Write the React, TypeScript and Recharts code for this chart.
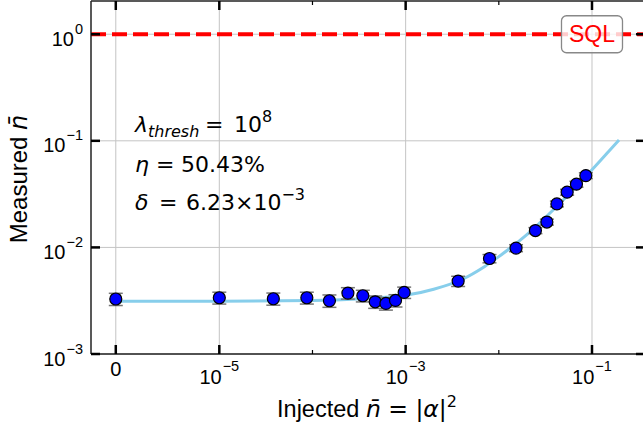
import React from 'react';
import { ComposedChart, XAxis, YAxis, Line, Scatter, ErrorBar, ReferenceLine, ReferenceDot } from 'recharts';

// measured points
const injected = [0, 1e-5, 3.8e-5, 8.7e-5, 1.52e-4, 2.4e-4, 3.47e-4, 4.71e-4, 6.14e-4, 7.78e-4, 9.64e-4, 3.66e-3, 7.94e-3, 1.53e-2, 2.47e-2, 3.28e-2, 4.2e-2, 5.41e-2, 6.81e-2, 8.59e-2];
const measured = [3.28e-3, 3.37e-3, 3.3e-3, 3.37e-3, 3.16e-3, 3.73e-3, 3.52e-3, 3.09e-3, 2.98e-3, 3.18e-3, 3.78e-3, 4.83e-3, 7.87e-3, 9.86e-3, 1.44e-2, 1.73e-2, 2.56e-2, 3.3e-2, 3.92e-2, 4.72e-2];
const errors = [4.3e-4, 4.3e-4, 4.3e-4, 4.3e-4, 4.2e-4, 4.6e-4, 4.4e-4, 4.1e-4, 4.0e-4, 4.2e-4, 4.6e-4, 5.3e-4, 7.0e-4, 7.4e-4, 9.4e-4, 1.1e-3, 1.6e-3, 2.1e-3, 2.5e-3, 3.0e-3];

// fitted curve
const fitX = [0, 1e-5, 1e-4, 3e-4, 1e-3, 2e-3, 4e-3, 7e-3, 1e-2, 2e-2, 4e-2, 7e-2, 1e-1, 1.5e-1, 1.95e-1];
const fitY = [3.12e-3, 3.13e-3, 3.18e-3, 3.28e-3, 3.55e-3, 4.05e-3, 5.0e-3, 6.6e-3, 8.2e-3, 1.32e-2, 2.33e-2, 3.85e-2, 5.35e-2, 7.9e-2, 1.02e-1];

const sqlLevel = 1;
const sqlLabel = 'SQL';

const xMajor = [0, 1e-5, 1e-3, 1e-1];
const xMinor = [1e-4, 1e-2];
const xTickLabels = ['0', '10^−5', '10^−3', '10^−1'];
const yTicks = [1e-3, 1e-2, 1e-1, 1];
const yTickLabels = ['10^−3', '10^−2', '10^−1', '10^0'];

// symlog like matplotlib (linthresh 1e-5, linscale 1)
const LINTHRESH = 1e-5;
const LINSCALE = 1 / (1 - 1 / 10);
const symlog = (v: number) =>
  v <= LINTHRESH ? (v / LINTHRESH) * LINSCALE : LINSCALE + Math.log10(v / LINTHRESH);

const X_DOMAIN = [-0.266, 5.68];
const Y_DOMAIN = [1e-3, 2.05];

const points = injected.map((v, i) => ({ tx: symlog(v), y: measured[i], err: errors[i] }));
const fit = fitX.map((v, i) => ({ tx: symlog(v), y: fitY[i] }));
const xTickPos = [...xMajor, ...xMinor].map(symlog);

const TICK_FONT = '"Liberation Sans", Arial, sans-serif';
const MATH_FONT = '"DejaVu Sans", sans-serif';

const PowLabel = ({ x, y, label, anchor, supDy }: any) => {
  const [base, exp] = label.split('^');
  return (
    <text x={x} y={y} textAnchor={anchor} fontFamily={TICK_FONT} fontSize={20} fill="#000">
      {base}
      {exp !== undefined && (
        <tspan dy={supDy} dx={1} fontSize={14.5}>
          {exp}
        </tspan>
      )}
    </text>
  );
};

const findIdx = (arr: number[], v: number) => arr.findIndex((a) => Math.abs(a - v) < 1e-9);

const BottomTick = (props: any) => {
  const { x, y, payload } = props;
  const i = findIdx(xMajor.map(symlog), payload.value);
  if (i < 0) {
    return <line x1={x} x2={x} y1={y} y2={y - 4} stroke="#000" strokeWidth={1.2} />;
  }
  const label = xTickLabels[i];
  return (
    <g>
      <line x1={x} x2={x} y1={y} y2={y - 9} stroke="#000" strokeWidth={2.5} />
      {label.includes('^') ? (
        <PowLabel x={x} y={y + 29.5} label={label} anchor="middle" supDy={-13} />
      ) : (
        <text x={x} y={y + 21.5} textAnchor="middle" fontFamily={TICK_FONT} fontSize={20} fill="#000">
          {label}
        </text>
      )}
    </g>
  );
};

const TopTick = (props: any) => {
  const { x, y, payload } = props;
  const major = findIdx(xMajor.map(symlog), payload.value) >= 0;
  return major ? (
    <line x1={x} x2={x} y1={y} y2={y + 9} stroke="#000" strokeWidth={2.5} />
  ) : (
    <line x1={x} x2={x} y1={y} y2={y + 4} stroke="#000" strokeWidth={1.2} />
  );
};

const LeftTick = (props: any) => {
  const { x, y, payload } = props;
  const i = findIdx(yTicks, payload.value);
  return (
    <g>
      <line x1={x} x2={x + 9} y1={y} y2={y} stroke="#000" strokeWidth={2.5} />
      {i >= 0 && <PowLabel x={x - 8} y={y + 11.5} label={yTickLabels[i]} anchor="end" supDy={-12} />}
    </g>
  );
};

const RightTick = (props: any) => {
  const { x, y } = props;
  return <line x1={x} x2={x - 9} y1={y} y2={y} stroke="#000" strokeWidth={2.5} />;
};

const Marker = (props: any) => {
  const { cx, cy } = props;
  return <circle cx={cx} cy={cy} r={6} fill="#0000ff" stroke="#000" strokeWidth={1.2} />;
};

const SqlBox = (props: any) => {
  const { cx, cy } = props;
  return (
    <g>
      <rect x={cx - 30.5} y={cy - 18.5} width={61} height={37} rx={5} fill="#fff" fillOpacity={0.8} stroke="#888" strokeWidth={1.3} />
      <text x={cx} y={cy + 8} textAnchor="middle" fontFamily={TICK_FONT} fontSize={23} fill="#ff0000">
        {sqlLabel}
      </text>
    </g>
  );
};

export default function App() {
  const gridStroke = '#c4c4c4';
  return (
    <div style={{ position: 'fixed', left: 0, top: 0, width: 643, height: 428, overflow: 'hidden', background: '#fff' }}>
      <ComposedChart width={660} height={428} margin={{ top: 0, right: 0, bottom: 0, left: 0 }}>
        <XAxis
          xAxisId="b"
          type="number"
          dataKey="tx"
          domain={X_DOMAIN}
          allowDataOverflow
          ticks={xTickPos}
          interval={0}
          height={74}
          tickSize={0}
          tickMargin={0}
          tickLine={false}
          tick={<BottomTick />}
          axisLine={{ stroke: '#222', strokeWidth: 1.5 }}
        />
        <XAxis
          xAxisId="t"
          orientation="top"
          type="number"
          dataKey="tx"
          domain={X_DOMAIN}
          allowDataOverflow
          ticks={xTickPos}
          interval={0}
          height={1}
          tickSize={0}
          tickMargin={0}
          tickLine={false}
          tick={<TopTick />}
          axisLine={{ stroke: '#222', strokeWidth: 1.5 }}
        />
        <YAxis
          yAxisId="l"
          type="number"
          scale="log"
          domain={Y_DOMAIN}
          allowDataOverflow
          ticks={yTicks}
          interval={0}
          width={91}
          tickSize={0}
          tickMargin={0}
          tickLine={false}
          tick={<LeftTick />}
          axisLine={{ stroke: '#222', strokeWidth: 1.5 }}
        />
        <YAxis
          yAxisId="r"
          orientation="right"
          type="number"
          scale="log"
          domain={Y_DOMAIN}
          allowDataOverflow
          ticks={yTicks}
          interval={0}
          width={15}
          tickSize={0}
          tickMargin={0}
          tickLine={false}
          tick={<RightTick />}
          axisLine={{ stroke: '#222', strokeWidth: 1.5 }}
        />
        {xMajor.map((v) => (
          <ReferenceLine key={'gx' + v} x={symlog(v)} xAxisId="b" yAxisId="l" stroke={gridStroke} strokeWidth={1} />
        ))}
        {yTicks.map((v) => (
          <ReferenceLine key={'gy' + v} y={v} xAxisId="b" yAxisId="l" stroke={gridStroke} strokeWidth={1} />
        ))}
        <Line
          data={fit}
          xAxisId="b"
          yAxisId="l"
          dataKey="y"
          type="monotone"
          stroke="#87ceeb"
          strokeWidth={3}
          dot={false}
          isAnimationActive={false}
        />
        <Scatter data={points} xAxisId="b" yAxisId="l" dataKey="y" shape={<Marker />} isAnimationActive={false}>
          <ErrorBar dataKey="err" direction="y" width={7} stroke="#777" strokeWidth={1.5} isAnimationActive={false} />
        </Scatter>
        <ReferenceLine
          y={sqlLevel}
          xAxisId="b"
          yAxisId="l"
          stroke="#ff0000"
          strokeWidth={4}
          strokeDasharray="15 6"
        />
        <ReferenceDot x={symlog(1e-1)} y={sqlLevel} xAxisId="b" yAxisId="l" shape={<SqlBox />} ifOverflow="visible" />
      </ComposedChart>
      <svg width={643} height={428} style={{ position: 'absolute', left: 0, top: 0, pointerEvents: 'none' }}>
        <text transform="translate(27,179) rotate(-90)" textAnchor="middle" fontFamily={TICK_FONT} fontSize={24} fill="#000">
          Measured <tspan fontFamily={MATH_FONT} fontStyle="italic">n̄</tspan>
        </text>
        <text x={367} y={417} textAnchor="middle" fontFamily={TICK_FONT} fontSize={23.5} fill="#000">
          Injected <tspan fontFamily={MATH_FONT} fontStyle="italic">n̄</tspan>
          <tspan fontFamily={MATH_FONT}> = |</tspan>
          <tspan fontFamily={MATH_FONT} fontStyle="italic">α</tspan>
          <tspan fontFamily={MATH_FONT}>|</tspan>
          <tspan fontFamily={MATH_FONT} fontSize={16} dy={-10}>2</tspan>
        </text>
        <g fontFamily={MATH_FONT} fontSize={22} fill="#000">
          <text x={135} y={131.7}>
            <tspan fontStyle="italic">λ</tspan>
            <tspan fontStyle="italic" fontSize={16} dy={5}>thresh</tspan>
            <tspan x={205} dy={-5}>=</tspan>
            <tspan x={234}>10</tspan>
            <tspan fontSize={16} dy={-10}>8</tspan>
          </text>
          <text x={135} y={171.7}>
            <tspan fontStyle="italic">η</tspan>
            <tspan x={156}>=</tspan>
            <tspan x={181}>50.43%</tspan>
          </text>
          <text x={135} y={210}>
            <tspan fontStyle="italic">δ</tspan>
            <tspan x={159}>=</tspan>
            <tspan x={186}>6.23×10</tspan>
            <tspan fontSize={16} dy={-10}>−3</tspan>
          </text>
        </g>
      </svg>
    </div>
  );
}
